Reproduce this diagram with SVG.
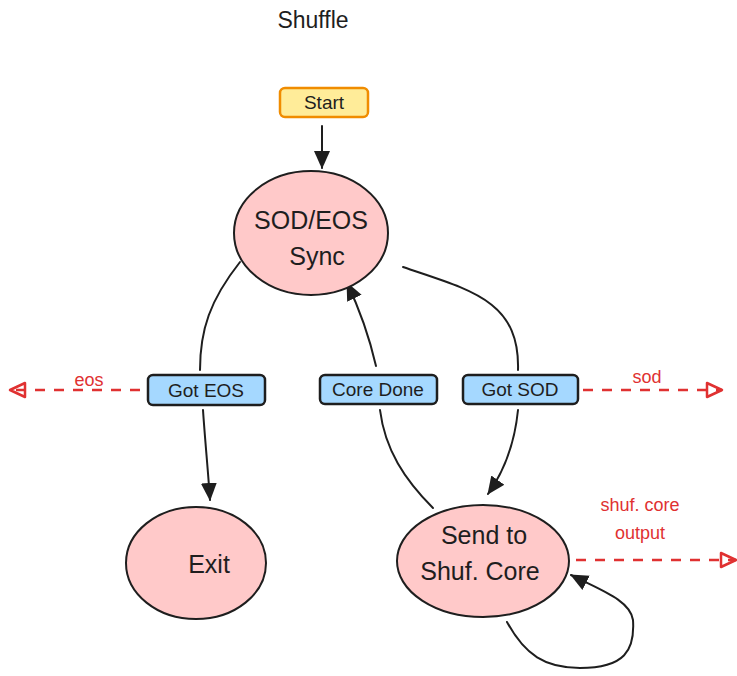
<svg xmlns="http://www.w3.org/2000/svg" width="737" height="676" viewBox="0 0 737 676">
  <style>
    text { font-family: "Liberation Sans", "DejaVu Sans", sans-serif; fill: #1e1e1e; text-anchor: middle; dominant-baseline: central; }
    .state { fill: #ffc9c9; stroke: #1e1e1e; stroke-width: 2; }
    .state-text { font-size: 25px; }
    .tag { fill: #a5d8ff; stroke: #1e1e1e; stroke-width: 2.5; }
    .tag-text { font-size: 19px; }
    .edge { fill: none; stroke: #1e1e1e; stroke-width: 2; stroke-linecap: round; }
    .out { fill: none; stroke: #e03131; stroke-width: 2.5; stroke-dasharray: 10 9; }
    .out-text { font-size: 18px; fill: #e03131; }
  </style>
  <defs>
    <marker id="arrow" viewBox="0 0 18 18" refX="17" refY="9" markerWidth="18" markerHeight="18" markerUnits="userSpaceOnUse" orient="auto">
      <path d="M0,1 L18,9 L0,17 Z" fill="#1e1e1e"/>
    </marker>
    <marker id="open-tri" viewBox="0 0 20 20" refX="18" refY="10" markerWidth="20" markerHeight="20" markerUnits="userSpaceOnUse" orient="auto">
      <path d="M3,3 L18,10 L3,17 Z" fill="none" stroke="#e03131" stroke-width="2.5" stroke-linejoin="round"/>
    </marker>
  </defs>

  <text x="313" y="20" style="font-size:23px">Shuffle</text>

  <!-- transitions -->
  <g id="connectors">
    <path class="edge" d="M322,126 L322,168" marker-end="url(#arrow)"/>
    <path class="edge" d="M240,262 C210,300 200,330 200,370"/>
    <path class="edge" d="M203,410 C205,440 208,470 210,500" marker-end="url(#arrow)"/>
    <path class="edge" d="M433,508 C405,480 385,450 380,410"/>
    <path class="edge" d="M376,366 C370,340 360,310 347,283" marker-end="url(#arrow)"/>
    <path class="edge" d="M403,267 C470,290 520,300 518,370"/>
    <path class="edge" d="M518,410 C515,440 505,470 488,494" marker-end="url(#arrow)"/>
    <path class="edge" d="M507,622 C525,655 545,668 580,668 C625,668 635,650 633,620 C630,600 600,590 571,575" marker-end="url(#arrow)"/>
    <path class="out" d="M140,390 L10,390" marker-end="url(#open-tri)"/>
    <path class="out" d="M583,390 L722,390" marker-end="url(#open-tri)"/>
    <path class="out" d="M576,560 L736,560" marker-end="url(#open-tri)"/>
  </g>

  <g id="start">
    <rect x="280" y="88" width="88" height="29" rx="5" fill="#ffec99" stroke="#f08c00" stroke-width="2.5"/>
    <text x="324" y="102" style="font-size:19px">Start</text>
  </g>

  <g id="sync">
    <ellipse class="state" cx="311" cy="233" rx="77" ry="62"/>
    <text class="state-text" x="311" y="220">SOD/EOS</text>
    <text class="state-text" x="317" y="256">Sync</text>
  </g>

  <g id="exit">
    <ellipse class="state" cx="196" cy="563" rx="70" ry="56"/>
    <text class="state-text" x="209" y="564">Exit</text>
  </g>

  <g id="send">
    <ellipse class="state" cx="483" cy="561" rx="86" ry="56"/>
    <text class="state-text" x="484" y="535">Send to</text>
    <text class="state-text" x="480" y="571">Shuf. Core</text>
  </g>

  <g id="got-eos">
    <rect class="tag" x="148" y="375" width="117" height="30" rx="5"/>
    <text class="tag-text" x="206" y="390">Got EOS</text>
  </g>

  <g id="core-done">
    <rect class="tag" x="320" y="375" width="117" height="29" rx="5"/>
    <text class="tag-text" x="378" y="389">Core Done</text>
  </g>

  <g id="got-sod">
    <rect class="tag" x="463" y="375" width="115" height="29" rx="5"/>
    <text class="tag-text" x="520" y="389">Got SOD</text>
  </g>

  <g id="outputs">
    <text class="out-text" x="89" y="380">eos</text>
    <text class="out-text" x="647" y="377">sod</text>
    <text class="out-text" x="640" y="505">shuf. core</text>
    <text class="out-text" x="640" y="533">output</text>
  </g>
</svg>
